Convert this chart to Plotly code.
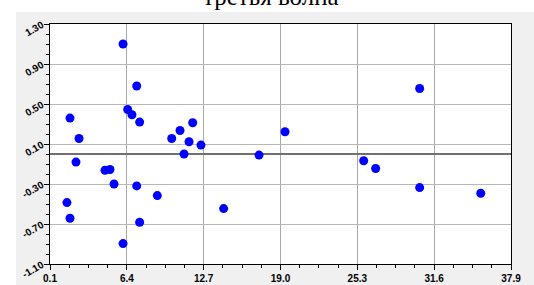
import plotly.graph_objects as go

title_text = "третья волна"

x_values = [6.09, 7.21, 6.47, 6.82, 7.45, 1.74, 2.48, 10.08, 10.76, 11.8, 11.5, 12.48,
            11.09, 2.23, 4.61, 5.02, 5.35, 7.21, 8.9, 1.49, 1.74, 7.45, 6.09, 14.34,
            30.41, 19.37, 17.24, 25.82, 26.8, 30.41, 35.42]
y_values = [1.10, 0.68, 0.445, 0.392, 0.319, 0.359, 0.155, 0.155, 0.235, 0.312, 0.122, 0.089,
            0.0, -0.081, -0.162, -0.155, -0.30, -0.319, -0.416, -0.486, -0.642, -0.682, -0.896, -0.546,
            0.655, 0.222, -0.011, -0.068, -0.145, -0.336, -0.392]

x_ticks = [0.1, 6.4, 12.7, 19.0, 25.3, 31.6, 37.9]
x_tick_labels = ["0.1", "6.4", "12.7", "19.0", "25.3", "31.6", "37.9"]
y_ticks = [-1.1, -0.7, -0.3, 0.1, 0.5, 0.9, 1.3]
y_tick_labels = ["-1.10", "-0.70", "-0.30", "0.10", "0.50", "0.90", "1.30"]

fig = go.Figure()
fig.add_trace(go.Scatter(
    x=x_values, y=y_values, mode="markers",
    marker=dict(color="#0000ff", size=9, line=dict(width=0)),
    hoverinfo="x+y", showlegend=False,
))

L, R, T, B = 50, 23, 24, 21
W, H = 534, 285
pw, ph = W - L - R, H - T - B

fig.add_annotation(
    text=title_text, xref="paper", yref="paper",
    x=(271 - L) / pw, xanchor="center",
    y=1 + (T - 12) / ph, yanchor="bottom",
    showarrow=False,
    font=dict(family="Liberation Serif", size=25, color="black"),
)

fig.update_layout(
    width=W, height=H,
    margin=dict(l=L, r=R, t=T, b=B, pad=0, autoexpand=False),
    paper_bgcolor="white",
    plot_bgcolor="white",
    shapes=[
        dict(type="rect", xref="paper", yref="paper", layer="below",
             x0=(16 - L) / pw, x1=(W + 5 - L) / pw,
             y0=-(B + 5) / ph, y1=(H - B - 12) / ph,
             fillcolor="#f0f0f0", line=dict(width=0)),
        dict(type="rect", xref="paper", yref="paper", layer="below",
             x0=0, x1=1, y0=0, y1=1,
             fillcolor="white", line=dict(width=0)),
    ],
    xaxis=dict(
        range=[0.1, 37.9], tickmode="array", tickvals=x_ticks, ticktext=x_tick_labels,
        automargin=False,
        showgrid=True, gridcolor="#a8a8a8", gridwidth=1,
        showline=True, linecolor="black", linewidth=1, mirror=True,
        ticks="outside", ticklen=5, tickcolor="black", tickwidth=1,
        zeroline=False,
        tickfont=dict(family="Liberation Sans", size=10, color="black", weight="bold"),
        minor=dict(tickmode="linear", tick0=0.1, dtick=1.575, ticks="outside",
                   ticklen=3, tickcolor="black", showgrid=False),
        fixedrange=True,
    ),
    yaxis=dict(
        range=[-1.1, 1.3], tickmode="array", tickvals=y_ticks, ticktext=y_tick_labels,
        automargin=False,
        showgrid=True, gridcolor="#b8b8b8", gridwidth=1,
        showline=True, linecolor="black", linewidth=1, mirror=True,
        ticks="outside", ticklen=5, tickcolor="black", tickwidth=1,
        zeroline=True, zerolinecolor="#707070", zerolinewidth=2,
        tickangle=-30,
        tickfont=dict(family="Liberation Sans", size=10, color="black", weight="bold"),
        minor=dict(tickmode="linear", tick0=-1.1, dtick=0.1, ticks="outside",
                   ticklen=3, tickcolor="black", showgrid=False),
        fixedrange=True,
    ),
)

fig.write_html("out.html", config={"displayModeBar": False},
               post_script="document.body.style.margin='0';document.body.style.overflow='hidden';")
